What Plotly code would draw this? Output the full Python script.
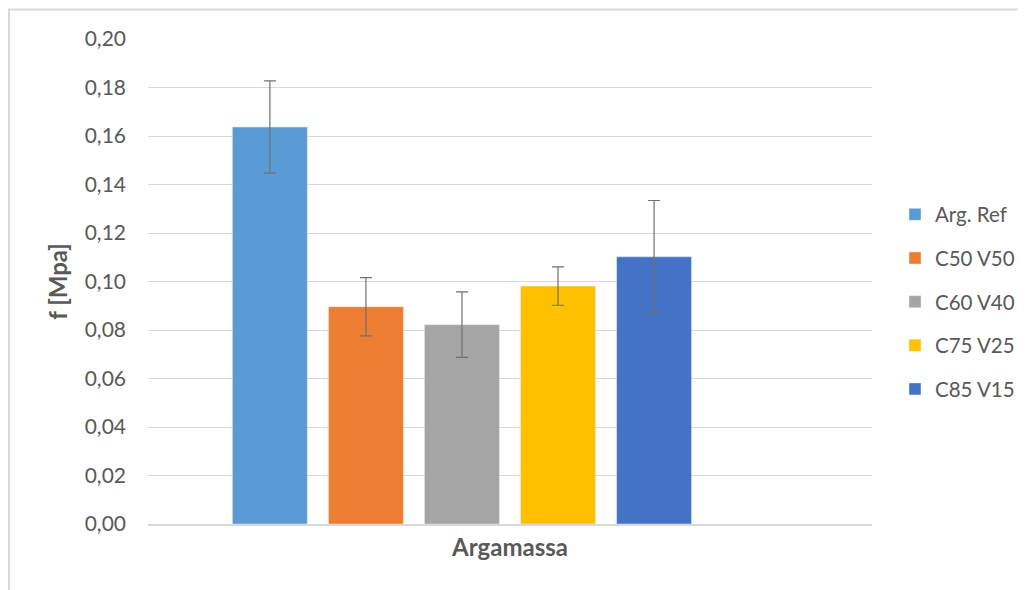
import plotly.graph_objects as go

category = ["Argamassa"]
series_names = ["Arg. Ref", "C50 V50", "C60 V40", "C75 V25", "C85 V15"]
values = [0.1637, 0.0896, 0.0822, 0.0981, 0.1102]
errors = [0.0190, 0.0120, 0.0135, 0.0079, 0.0232]
colors = ["#5B9BD5", "#ED7D31", "#A5A5A5", "#FFC000", "#4472C4"]
y_ticks = [0.00, 0.02, 0.04, 0.06, 0.08, 0.10, 0.12, 0.14, 0.16, 0.18, 0.20]

FONT = "Lato, Carlito, Calibri, sans-serif"
GRAY = "#595959"

fig = go.Figure()
for name, v, e, c in zip(series_names, values, errors, colors):
    fig.add_trace(go.Bar(
        x=category, y=[v], name=name, marker_color=c,
        legendgroup=name,
        error_y=dict(type="data", array=[e], visible=True,
                     color="#707070", thickness=1.2, width=6),
    ))
# empty slot (the original chart reserves a sixth position in the group)
fig.add_trace(go.Bar(x=category, y=[None], showlegend=False, hoverinfo="skip"))

W, H = 1026, 590
L, R, T, B = 140, 162, 31, 74
pw, ph = W - L - R, H - T - B

def px_x(p):
    return (p - L) / pw

def px_y(p):
    return (H - B - p) / ph

fig.update_layout(
    width=W, height=H,
    margin=dict(l=L, r=R, t=T, b=B, autoexpand=False),
    paper_bgcolor="white", plot_bgcolor="white",
    separators=", ",
    font=dict(family=FONT, color=GRAY, size=20),
    barmode="group", bargap=0.204, bargroupgap=0.22,
    showlegend=True,
    legend=dict(x=px_x(887), xanchor="left", y=px_y(294), yanchor="middle",
                font=dict(size=20.5, color=GRAY, family=FONT),
                tracegroupgap=14, bgcolor="rgba(0,0,0,0)"),
    xaxis=dict(showticklabels=False, showgrid=False, zeroline=False,
               showline=True, linecolor="#d9d9d9", linewidth=1.5,
               title=dict(text="<b>Argamassa</b>", standoff=14,
                          font=dict(size=24, color=GRAY, family=FONT))),
    yaxis=dict(range=[0, 0.2], tickvals=y_ticks, tickformat=".2f",
               showgrid=True, gridcolor="#d9d9d9", gridwidth=1,
               zeroline=False, showline=False, ticks="",
               ticklabelstandoff=21,
               tickfont=dict(size=21, color=GRAY, family=FONT),
               title=dict(text="<b>f [Mpa]</b>", standoff=10,
                          font=dict(size=24, color=GRAY, family=FONT))),
    shapes=[dict(type="rect", xref="paper", yref="paper",
                 x0=px_x(1), x1=px_x(1040), y0=px_y(600), y1=px_y(1.5),
                 line=dict(color="#d9d9d9", width=2), fillcolor="rgba(0,0,0,0)",
                 layer="below")],
)

fig.write_html("out.html")
